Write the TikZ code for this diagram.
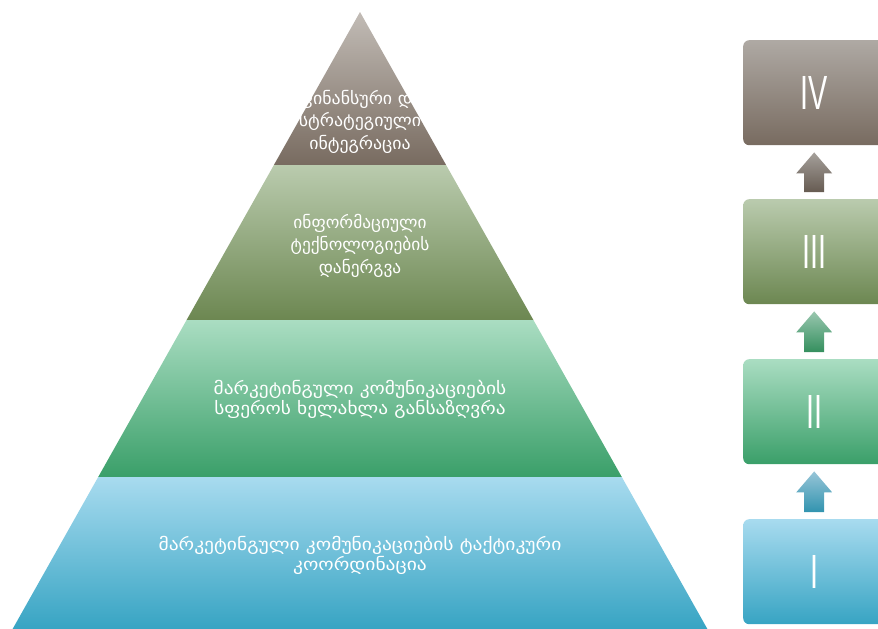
\documentclass[tikz,border=0pt]{standalone}
\usepackage{fontspec}
\newfontfamily\geo{DejaVu Sans}
\setsansfont{Liberation Sans}
\usetikzlibrary{calc}
% widened centred block of lines
\newcommand{\widelines}[2]{\scalebox{#1}[1]{\begin{tabular}{@{}c@{}}#2\end{tabular}}}
\begin{document}
\begin{tikzpicture}[x=1pt,y=-1pt,
  tiertext/.style={text=white, inner sep=0pt,
    font=\geo\fontsize{17}{19.5}\selectfont},
  toptext/.style={text=white, inner sep=0pt,
    font=\geo\fontsize{17}{22.5}\selectfont},
  numtext/.style={text=white, inner sep=0pt},
  stepbox/.style={rounded corners=6pt, minimum width=142pt, minimum height=105pt,
    anchor=north west, inner sep=0pt},
]
\useasboundingbox (0,0) rectangle (878,629);
\clip (0,0) rectangle (878,629);

% colour pairs (light top, dark bottom)
\definecolor{brownA}{HTML}{C2BCB6}\definecolor{brownB}{HTML}{786B60}
\definecolor{oliveA}{HTML}{BACBAE}\definecolor{oliveB}{HTML}{6C8751}
\definecolor{greenA}{HTML}{AADDC2}\definecolor{greenB}{HTML}{3A9F69}
\definecolor{blueA}{HTML}{A8DBEF}\definecolor{blueB}{HTML}{37A4C3}

% pyramid outline points
\coordinate (apex) at (360,12);
\coordinate (l1) at (273.9,165); \coordinate (r1) at (446.1,165);
\coordinate (l2) at (186.6,320); \coordinate (r2) at (533.4,320);
\coordinate (l3) at (98.2,477);  \coordinate (r3) at (621.8,477);
\coordinate (l4) at (12.6,629);  \coordinate (r4) at (707.4,629);

\shade[top color=brownA, bottom color=brownB] (apex) -- (r1) -- (l1) -- cycle;
\shade[top color=oliveA, bottom color=oliveB] (l1) -- (r1) -- (r2) -- (l2) -- cycle;
\shade[top color=greenA, bottom color=greenB] (l2) -- (r2) -- (r3) -- (l3) -- cycle;
\shade[top color=blueA, bottom color=blueB] (l3) -- (r3) -- (r4) -- (l4) -- cycle;

\node[toptext] (t1) at (360,122) {\widelines{1.05}{ფინანსური და\\სტრატეგიული\\ინტეგრაცია}};
\node[toptext] (t2) at (360,246) {\widelines{1.02}{ინფორმაციული\\ტექნოლოგიების\\დანერგვა}};
\node[tiertext] (t3) at (360,400) {\widelines{1.14}{მარკეტინგული კომუნიკაციების\\სფეროს ხელახლა განსაზღვრა}};
\node[tiertext] (t4) at (360,556) {\widelines{1.15}{მარკეტინგული კომუნიკაციების ტაქტიკური\\კოორდინაცია}};

% stage boxes
\node[stepbox, top color=brownA!90!black, bottom color=brownB] (b4) at (743,40) {};
\node[stepbox, top color=oliveA, bottom color=oliveB] (b3) at (743,199) {};
\node[stepbox, top color=greenA, bottom color=greenB] (b2) at (743,359) {};
\node[stepbox, top color=blueA, bottom color=blueB] (b1) at (743,519) {};

\foreach \b/\t in {b4/IV, b3/III, b2/II, b1/I}
  \node[numtext] at (\b.center) {\scalebox{0.6}[1]{\sffamily\fontsize{48}{48}\selectfont \t}};

% block arrows from each box up to the next
\newcommand{\stagearrow}[4]{%
  \shade[top color=#3, bottom color=#4]
    ($(#2.south)+(0,7)$) -- ($(#2.south)+(18,28)$) -- ($(#2.south)+(10,28)$)
    -- ($(#1.north)+(10,-7)$) -- ($(#1.north)+(-10,-7)$)
    -- ($(#2.south)+(-10,28)$) -- ($(#2.south)+(-18,28)$) -- cycle;}
\stagearrow{b3}{b4}{brownA!85!black}{brownB!85!black}
\stagearrow{b2}{b3}{greenA!90!black}{greenB!90!black}
\stagearrow{b1}{b2}{blueA!90!black}{blueB!90!black}
\end{tikzpicture}
\end{document}
